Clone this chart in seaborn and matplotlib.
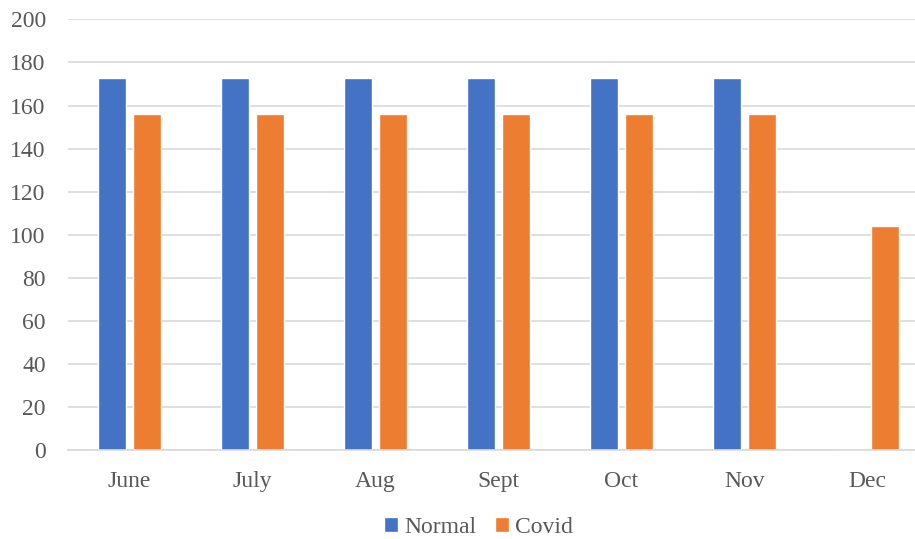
import pandas as pd
import seaborn as sns
import matplotlib.pyplot as plt

months = ['June', 'July', 'Aug', 'Sept', 'Oct', 'Nov', 'Dec']
normal = [173, 173, 173, 173, 173, 173, 0]
covid = [156, 156, 156, 156, 156, 156, 104]

df = pd.DataFrame({'month': months * 2,
                   'value': normal + covid,
                   'series': ['Normal'] * len(months) + ['Covid'] * len(months)})

sns.set_style('white')
plt.rcParams['font.family'] = ['Liberation Serif', 'DejaVu Serif']

fig = plt.figure(figsize=(9.15, 5.39), dpi=100)
ax = fig.add_axes([0.0743, 0.165, 0.941, 0.799])

sns.barplot(data=df, x='month', y='value', hue='series', order=months,
            palette={'Normal': '#4472C4', 'Covid': '#ED7D31'},
            width=0.569, gap=0.2, saturation=1, ax=ax, legend=True)

ax.set_ylim(0, 200)
ax.set_yticks(range(0, 201, 20))
ax.set_xlim(-0.5, len(months) - 0.5)
ax.yaxis.grid(True, color='#D9D9D9', linewidth=1.2)
ax.set_axisbelow(True)
for s in ['top', 'right', 'left']:
    ax.spines[s].set_visible(False)
ax.spines['bottom'].set_color('#D9D9D9')
ax.spines['bottom'].set_linewidth(1.2)
ax.tick_params(axis='y', length=0, pad=16, labelsize=17, labelcolor='#595959')
ax.tick_params(axis='x', length=0, pad=15, labelsize=17, labelcolor='#595959')
ax.set_xlabel('')
ax.set_ylabel('')

handles, labels = ax.get_legend_handles_labels()
ax.get_legend().remove()
fig.legend(handles, labels, loc='center', bbox_to_anchor=(0.523, 0.022), ncol=2,
           frameon=False, fontsize=17, labelcolor='#595959', borderpad=0.0,
           handlelength=0.6, handleheight=0.6, handletextpad=0.25, columnspacing=0.8)

fig.savefig('out.png', dpi=100)
